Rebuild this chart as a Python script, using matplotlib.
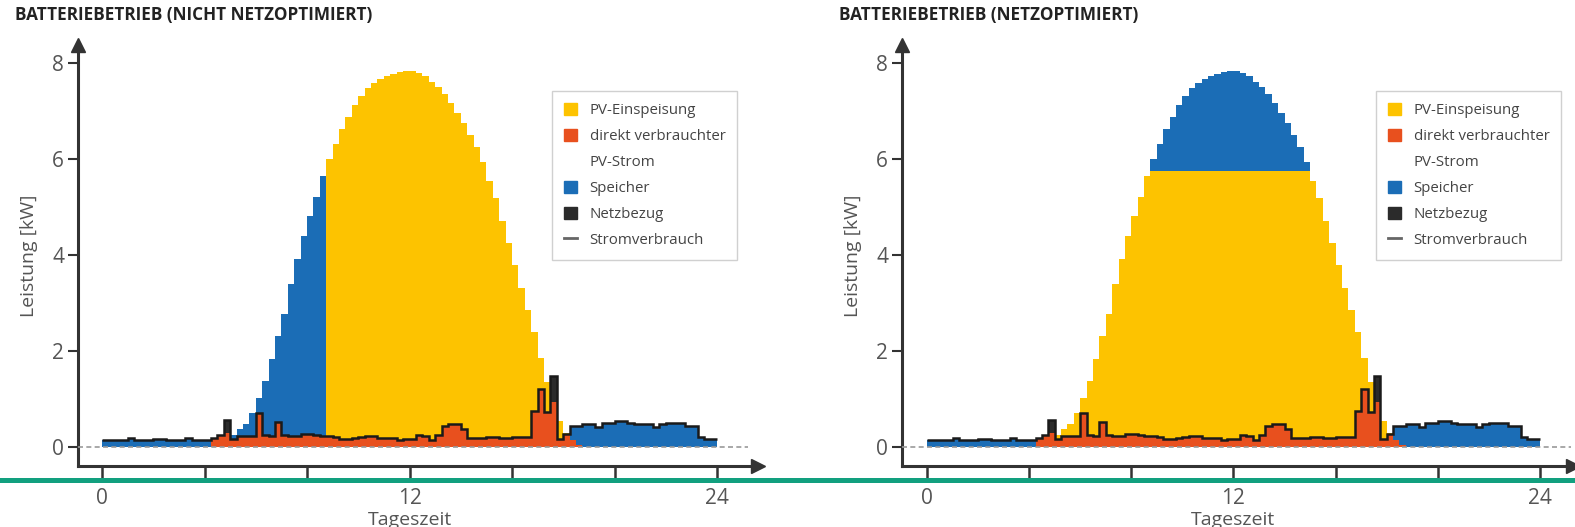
import numpy as np
import matplotlib.pyplot as plt
from matplotlib.patches import Patch
from matplotlib.lines import Line2D
from matplotlib import font_manager

# PV-Erzeugung und Stromverbrauch in kW, 15-Minuten-Werte (96 pro Tag)
pv = [0, 0, 0, 0, 0, 0, 0, 0, 0, 0, 0, 0, 0, 0, 0, 0,
      0, 0.18, 0.26, 0.30, 0.25, 0.38, 0.47, 0.71, 1.02, 1.37, 1.83, 2.32,
      2.77, 3.40, 3.92, 4.40, 4.82, 5.20, 5.65, 6.00, 6.32, 6.62, 6.88, 7.12,
      7.32, 7.47, 7.58, 7.66, 7.72, 7.78, 7.81, 7.84, 7.83, 7.80, 7.72, 7.60,
      7.50, 7.36, 7.16, 6.95, 6.74, 6.50, 6.24, 5.93, 5.55, 5.18, 4.70, 4.25,
      3.80, 3.32, 2.85, 2.40, 1.85, 1.35, 0.93, 0.54, 0.30, 0.15, 0.05, 0,
      0, 0, 0, 0, 0, 0, 0, 0, 0, 0, 0, 0, 0, 0, 0, 0, 0, 0, 0, 0]

verbrauch = [0.15, 0.15, 0.15, 0.15, 0.18, 0.15, 0.15, 0.15, 0.17, 0.17, 0.15, 0.15,
             0.15, 0.19, 0.15, 0.15, 0.15, 0.18, 0.26, 0.56, 0.16, 0.22, 0.22, 0.22,
             0.70, 0.26, 0.22, 0.53, 0.24, 0.23, 0.23, 0.27, 0.27, 0.24, 0.22, 0.22,
             0.20, 0.16, 0.16, 0.19, 0.20, 0.22, 0.23, 0.18, 0.19, 0.19, 0.15, 0.17,
             0.17, 0.24, 0.22, 0.15, 0.24, 0.44, 0.48, 0.48, 0.37, 0.18, 0.18, 0.18,
             0.21, 0.21, 0.19, 0.19, 0.20, 0.20, 0.20, 0.75, 1.20, 0.73, 1.47, 0.17,
             0.27, 0.44, 0.44, 0.48, 0.48, 0.41, 0.51, 0.51, 0.55, 0.55, 0.51, 0.48,
             0.48, 0.48, 0.41, 0.48, 0.51, 0.51, 0.51, 0.44, 0.44, 0.20, 0.17, 0.17]

einspeise_grenze = 5.75   # kW, netzoptimierter Betrieb
speicher_voll_ab = 35     # Intervall, ab dem der Speicher voll ist (nicht netzoptimiert)
tag_von, tag_bis = 17, 73 # Intervalle ohne Speicherentladung

titel = ["BATTERIEBETRIEB (NICHT NETZOPTIMIERT)", "BATTERIEBETRIEB (NETZOPTIMIERT)"]
legende = ["PV-Einspeisung", "direkt verbrauchter", "PV-Strom", "Speicher",
           "Netzbezug", "Stromverbrauch"]

gelb = "#fdc300"
rot = "#e8501e"
blau = "#1b6db6"
schwarz = "#2b2b2b"
grau = "#555555"

namen = {f.name for f in font_manager.fontManager.ttflist}
schmal = "Liberation Sans Narrow" if "Liberation Sans Narrow" in namen else "Open Sans"
plt.rcParams["font.family"] = ["Open Sans", "DejaVu Sans"]

pv = np.array(pv)
last = np.array(verbrauch)
kanten = np.arange(len(pv) + 1) * 0.25
idx = np.arange(len(pv))

direkt = np.minimum(pv, last)
defizit = last - direkt
netz = np.where((idx >= tag_von) & (idx < tag_bis), defizit, 0)
entladung = defizit - netz
ueberschuss = pv - direkt

fig = plt.figure(figsize=(15.75, 5.27), dpi=100)
W, H = 1575, 527

panels = [(78, 102, 25.625, 680), (902, 927, 25.54, 671)]
for k, (ax_px, null_px, px_h, breite) in enumerate(panels):
    ax = fig.add_axes([ax_px / W, 1 - 466 / H, breite / W, 421 / H])
    xmin = -(null_px - ax_px) / px_h
    ax.set_xlim(xmin, xmin + breite / px_h)
    ax.set_ylim(-19 / 48, 402 / 48)

    if k == 0:
        laden = np.where(idx < speicher_voll_ab, ueberschuss, 0)
        einspeisung = ueberschuss - laden
        unten_gelb = last + laden
    else:
        einspeisung = np.minimum(ueberschuss, np.maximum(einspeise_grenze - last, 0))
        laden = ueberschuss - einspeisung
        unten_gelb = last

    ax.stairs(direkt, kanten, baseline=0, fill=True, color=rot, lw=0)
    ax.stairs(direkt + entladung, kanten, baseline=direkt, fill=True, color=blau, lw=0)
    ax.stairs(last, kanten, baseline=direkt + entladung, fill=True, color=schwarz, lw=0)
    if k == 0:
        ax.stairs(last + laden, kanten, baseline=last, fill=True, color=blau, lw=0)
        ax.stairs(unten_gelb + einspeisung, kanten, baseline=unten_gelb, fill=True,
                  color=gelb, lw=0)
    else:
        ax.stairs(last + einspeisung, kanten, baseline=last, fill=True, color=gelb, lw=0)
        ax.stairs(last + einspeisung + laden, kanten, baseline=last + einspeisung,
                  fill=True, color=blau, lw=0)

    ax.plot([xmin, 25.2], [0, 0], ls=(0, (3, 2)), color="#999999", lw=1.2, zorder=3)
    ax.stairs(last, kanten, baseline=None, color="#1a1a1a", lw=1.8, zorder=4)

    for s in ["top", "right"]:
        ax.spines[s].set_visible(False)
    for s in ["left", "bottom"]:
        ax.spines[s].set_linewidth(2.2)
        ax.spines[s].set_color("#333333")
    ax.plot(1, 0, ">", color="#333333", ms=10, transform=ax.transAxes, clip_on=False)
    ax.plot(0, 1, "^", color="#333333", ms=10, transform=ax.transAxes, clip_on=False)

    ax.set_xticks(np.arange(0, 25, 4))
    ax.set_xticklabels(["0", "", "", "12", "", "", "24"])
    ax.set_yticks([0, 2, 4, 6, 8])
    ax.tick_params(axis="x", length=11, width=1.8, color="#333333", pad=5,
                   labelsize=15, labelcolor=grau)
    ax.tick_params(axis="y", length=7, width=1.5, color="#333333", pad=3,
                   labelsize=15, labelcolor=grau)
    for t in ax.get_xticklabels() + ax.get_yticklabels():
        t.set_family(schmal)

    ax.set_ylabel("Leistung [kW]", fontsize=14, color=grau, family=schmal)
    ax.yaxis.set_label_coords(-40 / breite, 0.5)
    ax.set_xlabel("Tageszeit", fontsize=14, color=grau, family=schmal)
    ax.xaxis.set_label_coords((null_px + 12 * px_h - ax_px) / breite, -0.108)

    griffe = [Patch(color=gelb), Patch(color=rot), Patch(color="none"),
              Patch(color=blau), Patch(color=schwarz),
              Line2D([], [], color="#666666", lw=2)]
    leg = ax.legend(griffe, legende, loc="upper left",
                    bbox_to_anchor=(474 / breite, (466 - 91) / 421),
                    borderaxespad=0, fontsize=10.8, frameon=True, fancybox=False,
                    framealpha=1, edgecolor="#d0d0d0", handlelength=0.85,
                    handleheight=0.85, handletextpad=0.85, labelspacing=0.72,
                    borderpad=0.8)
    leg.get_frame().set_linewidth(1.0)
    for t in leg.get_texts():
        t.set_color("#444444")

    fig.text((15 + ax_px - 78) / W, 1 - 15 / H, titel[k], fontsize=12.3,
             fontweight="bold", color="#222222", va="center")

fig.add_artist(Line2D([0, 1], [1 - 480 / H, 1 - 480 / H], transform=fig.transFigure,
                      color="#12a07f", lw=3.6, zorder=10))

fig.savefig("out.png", dpi=100)
